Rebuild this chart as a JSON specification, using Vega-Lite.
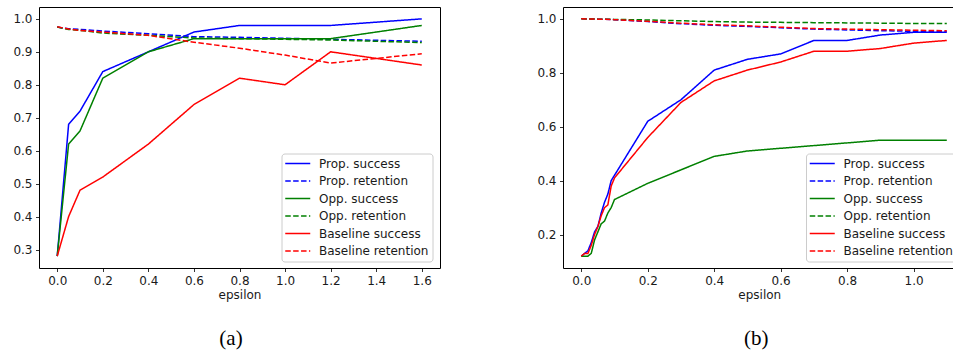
{
  "$schema": "https://vega.github.io/schema/vega-lite/v6.json",
  "padding": {"left": 12, "top": 6, "right": 0, "bottom": 0},
  "background": "white",
  "config": {
    "view": {"stroke": "#000000", "strokeWidth": 1},
    "axis": {
      "grid": false,
      "domain": false,
      "labelFont": "DejaVu Sans",
      "labelFontSize": 12,
      "labelColor": "#1a1a1a",
      "tickColor": "#000000",
      "tickSize": 3.5,
      "tickWidth": 0.8,
      "labelPadding": 3.5,
      "titleFont": "DejaVu Sans",
      "titleFontSize": 12,
      "titleFontWeight": "normal",
      "titleColor": "#1a1a1a",
      "titlePadding": 3
    },
    "legend": {
      "orient": "none",
      "title": null,
      "fillColor": "rgba(255,255,255,0.8)",
      "strokeColor": "#cccccc",
      "cornerRadius": 3,
      "padding": 4,
      "symbolType": "M-2,0H6",
      "symbolSize": 39.0625,
      "symbolStrokeWidth": 1.5,
      "labelFont": "DejaVu Sans",
      "labelFontSize": 12,
      "labelColor": "#1a1a1a",
      "labelOffset": 21.5,
      "rowPadding": 5.5
    },
    "title": {"font": "Liberation Serif", "fontSize": 21, "fontWeight": "normal", "color": "#000000"}
  },
  "data": {"values": [
    {"p": "a", "series": "Prop. success", "eps": 0, "v": 0.28},
    {"p": "a", "series": "Prop. success", "eps": 0.05, "v": 0.68},
    {"p": "a", "series": "Prop. success", "eps": 0.1, "v": 0.72},
    {"p": "a", "series": "Prop. success", "eps": 0.2, "v": 0.84},
    {"p": "a", "series": "Prop. success", "eps": 0.4, "v": 0.90},
    {"p": "a", "series": "Prop. success", "eps": 0.6, "v": 0.96},
    {"p": "a", "series": "Prop. success", "eps": 0.8, "v": 0.98},
    {"p": "a", "series": "Prop. success", "eps": 1.0, "v": 0.98},
    {"p": "a", "series": "Prop. success", "eps": 1.2, "v": 0.98},
    {"p": "a", "series": "Prop. success", "eps": 1.6, "v": 1.0},
    {"p": "a", "series": "Prop. retention", "eps": 0, "v": 0.975},
    {"p": "a", "series": "Prop. retention", "eps": 0.05, "v": 0.970},
    {"p": "a", "series": "Prop. retention", "eps": 0.1, "v": 0.968},
    {"p": "a", "series": "Prop. retention", "eps": 0.2, "v": 0.963},
    {"p": "a", "series": "Prop. retention", "eps": 0.4, "v": 0.955},
    {"p": "a", "series": "Prop. retention", "eps": 0.6, "v": 0.946},
    {"p": "a", "series": "Prop. retention", "eps": 0.8, "v": 0.944},
    {"p": "a", "series": "Prop. retention", "eps": 1.0, "v": 0.941},
    {"p": "a", "series": "Prop. retention", "eps": 1.2, "v": 0.938},
    {"p": "a", "series": "Prop. retention", "eps": 1.6, "v": 0.932},
    {"p": "a", "series": "Opp. success", "eps": 0, "v": 0.28},
    {"p": "a", "series": "Opp. success", "eps": 0.05, "v": 0.62},
    {"p": "a", "series": "Opp. success", "eps": 0.1, "v": 0.66},
    {"p": "a", "series": "Opp. success", "eps": 0.2, "v": 0.82},
    {"p": "a", "series": "Opp. success", "eps": 0.4, "v": 0.90},
    {"p": "a", "series": "Opp. success", "eps": 0.6, "v": 0.94},
    {"p": "a", "series": "Opp. success", "eps": 0.8, "v": 0.94},
    {"p": "a", "series": "Opp. success", "eps": 1.0, "v": 0.94},
    {"p": "a", "series": "Opp. success", "eps": 1.2, "v": 0.94},
    {"p": "a", "series": "Opp. success", "eps": 1.6, "v": 0.98},
    {"p": "a", "series": "Opp. retention", "eps": 0, "v": 0.975},
    {"p": "a", "series": "Opp. retention", "eps": 0.05, "v": 0.968},
    {"p": "a", "series": "Opp. retention", "eps": 0.1, "v": 0.965},
    {"p": "a", "series": "Opp. retention", "eps": 0.2, "v": 0.957},
    {"p": "a", "series": "Opp. retention", "eps": 0.4, "v": 0.950},
    {"p": "a", "series": "Opp. retention", "eps": 0.6, "v": 0.942},
    {"p": "a", "series": "Opp. retention", "eps": 0.8, "v": 0.940},
    {"p": "a", "series": "Opp. retention", "eps": 1.0, "v": 0.938},
    {"p": "a", "series": "Opp. retention", "eps": 1.2, "v": 0.936},
    {"p": "a", "series": "Opp. retention", "eps": 1.6, "v": 0.928},
    {"p": "a", "series": "Baseline success", "eps": 0, "v": 0.28},
    {"p": "a", "series": "Baseline success", "eps": 0.05, "v": 0.40},
    {"p": "a", "series": "Baseline success", "eps": 0.1, "v": 0.48},
    {"p": "a", "series": "Baseline success", "eps": 0.2, "v": 0.52},
    {"p": "a", "series": "Baseline success", "eps": 0.4, "v": 0.62},
    {"p": "a", "series": "Baseline success", "eps": 0.6, "v": 0.74},
    {"p": "a", "series": "Baseline success", "eps": 0.8, "v": 0.82},
    {"p": "a", "series": "Baseline success", "eps": 1.0, "v": 0.80},
    {"p": "a", "series": "Baseline success", "eps": 1.2, "v": 0.90},
    {"p": "a", "series": "Baseline success", "eps": 1.6, "v": 0.86},
    {"p": "a", "series": "Baseline retention", "eps": 0, "v": 0.976},
    {"p": "a", "series": "Baseline retention", "eps": 0.05, "v": 0.969},
    {"p": "a", "series": "Baseline retention", "eps": 0.1, "v": 0.965},
    {"p": "a", "series": "Baseline retention", "eps": 0.2, "v": 0.960},
    {"p": "a", "series": "Baseline retention", "eps": 0.4, "v": 0.950},
    {"p": "a", "series": "Baseline retention", "eps": 0.6, "v": 0.929},
    {"p": "a", "series": "Baseline retention", "eps": 0.8, "v": 0.911},
    {"p": "a", "series": "Baseline retention", "eps": 1.0, "v": 0.890},
    {"p": "a", "series": "Baseline retention", "eps": 1.2, "v": 0.866},
    {"p": "a", "series": "Baseline retention", "eps": 1.6, "v": 0.894},

    {"p": "b", "series": "Prop. success", "eps": 0, "v": 0.12},
    {"p": "b", "series": "Prop. success", "eps": 0.01, "v": 0.13},
    {"p": "b", "series": "Prop. success", "eps": 0.02, "v": 0.14},
    {"p": "b", "series": "Prop. success", "eps": 0.03, "v": 0.17},
    {"p": "b", "series": "Prop. success", "eps": 0.04, "v": 0.21},
    {"p": "b", "series": "Prop. success", "eps": 0.05, "v": 0.23},
    {"p": "b", "series": "Prop. success", "eps": 0.06, "v": 0.28},
    {"p": "b", "series": "Prop. success", "eps": 0.07, "v": 0.32},
    {"p": "b", "series": "Prop. success", "eps": 0.08, "v": 0.35},
    {"p": "b", "series": "Prop. success", "eps": 0.09, "v": 0.40},
    {"p": "b", "series": "Prop. success", "eps": 0.1, "v": 0.42},
    {"p": "b", "series": "Prop. success", "eps": 0.2, "v": 0.62},
    {"p": "b", "series": "Prop. success", "eps": 0.3, "v": 0.70},
    {"p": "b", "series": "Prop. success", "eps": 0.4, "v": 0.81},
    {"p": "b", "series": "Prop. success", "eps": 0.5, "v": 0.85},
    {"p": "b", "series": "Prop. success", "eps": 0.6, "v": 0.87},
    {"p": "b", "series": "Prop. success", "eps": 0.7, "v": 0.92},
    {"p": "b", "series": "Prop. success", "eps": 0.8, "v": 0.92},
    {"p": "b", "series": "Prop. success", "eps": 0.9, "v": 0.94},
    {"p": "b", "series": "Prop. success", "eps": 1.0, "v": 0.95},
    {"p": "b", "series": "Prop. success", "eps": 1.1, "v": 0.95},
    {"p": "b", "series": "Prop. retention", "eps": 0, "v": 1.0},
    {"p": "b", "series": "Prop. retention", "eps": 0.05, "v": 0.999},
    {"p": "b", "series": "Prop. retention", "eps": 0.1, "v": 0.997},
    {"p": "b", "series": "Prop. retention", "eps": 0.2, "v": 0.990},
    {"p": "b", "series": "Prop. retention", "eps": 0.3, "v": 0.982},
    {"p": "b", "series": "Prop. retention", "eps": 0.4, "v": 0.976},
    {"p": "b", "series": "Prop. retention", "eps": 0.5, "v": 0.972},
    {"p": "b", "series": "Prop. retention", "eps": 0.6, "v": 0.967},
    {"p": "b", "series": "Prop. retention", "eps": 0.7, "v": 0.962},
    {"p": "b", "series": "Prop. retention", "eps": 0.8, "v": 0.959},
    {"p": "b", "series": "Prop. retention", "eps": 0.9, "v": 0.956},
    {"p": "b", "series": "Prop. retention", "eps": 1.0, "v": 0.954},
    {"p": "b", "series": "Prop. retention", "eps": 1.1, "v": 0.953},
    {"p": "b", "series": "Opp. success", "eps": 0, "v": 0.12},
    {"p": "b", "series": "Opp. success", "eps": 0.01, "v": 0.12},
    {"p": "b", "series": "Opp. success", "eps": 0.02, "v": 0.12},
    {"p": "b", "series": "Opp. success", "eps": 0.03, "v": 0.13},
    {"p": "b", "series": "Opp. success", "eps": 0.04, "v": 0.18},
    {"p": "b", "series": "Opp. success", "eps": 0.05, "v": 0.21},
    {"p": "b", "series": "Opp. success", "eps": 0.06, "v": 0.24},
    {"p": "b", "series": "Opp. success", "eps": 0.07, "v": 0.25},
    {"p": "b", "series": "Opp. success", "eps": 0.08, "v": 0.28},
    {"p": "b", "series": "Opp. success", "eps": 0.09, "v": 0.30},
    {"p": "b", "series": "Opp. success", "eps": 0.1, "v": 0.33},
    {"p": "b", "series": "Opp. success", "eps": 0.2, "v": 0.39},
    {"p": "b", "series": "Opp. success", "eps": 0.3, "v": 0.44},
    {"p": "b", "series": "Opp. success", "eps": 0.4, "v": 0.49},
    {"p": "b", "series": "Opp. success", "eps": 0.5, "v": 0.51},
    {"p": "b", "series": "Opp. success", "eps": 0.6, "v": 0.52},
    {"p": "b", "series": "Opp. success", "eps": 0.7, "v": 0.53},
    {"p": "b", "series": "Opp. success", "eps": 0.8, "v": 0.54},
    {"p": "b", "series": "Opp. success", "eps": 0.9, "v": 0.55},
    {"p": "b", "series": "Opp. success", "eps": 1.0, "v": 0.55},
    {"p": "b", "series": "Opp. success", "eps": 1.1, "v": 0.55},
    {"p": "b", "series": "Opp. retention", "eps": 0, "v": 1.0},
    {"p": "b", "series": "Opp. retention", "eps": 0.05, "v": 0.999},
    {"p": "b", "series": "Opp. retention", "eps": 0.1, "v": 0.998},
    {"p": "b", "series": "Opp. retention", "eps": 0.2, "v": 0.996},
    {"p": "b", "series": "Opp. retention", "eps": 0.3, "v": 0.993},
    {"p": "b", "series": "Opp. retention", "eps": 0.4, "v": 0.990},
    {"p": "b", "series": "Opp. retention", "eps": 0.5, "v": 0.988},
    {"p": "b", "series": "Opp. retention", "eps": 0.6, "v": 0.987},
    {"p": "b", "series": "Opp. retention", "eps": 0.7, "v": 0.986},
    {"p": "b", "series": "Opp. retention", "eps": 0.8, "v": 0.985},
    {"p": "b", "series": "Opp. retention", "eps": 0.9, "v": 0.984},
    {"p": "b", "series": "Opp. retention", "eps": 1.0, "v": 0.983},
    {"p": "b", "series": "Opp. retention", "eps": 1.1, "v": 0.983},
    {"p": "b", "series": "Baseline success", "eps": 0, "v": 0.12},
    {"p": "b", "series": "Baseline success", "eps": 0.01, "v": 0.13},
    {"p": "b", "series": "Baseline success", "eps": 0.02, "v": 0.13},
    {"p": "b", "series": "Baseline success", "eps": 0.03, "v": 0.16},
    {"p": "b", "series": "Baseline success", "eps": 0.04, "v": 0.20},
    {"p": "b", "series": "Baseline success", "eps": 0.05, "v": 0.23},
    {"p": "b", "series": "Baseline success", "eps": 0.06, "v": 0.27},
    {"p": "b", "series": "Baseline success", "eps": 0.07, "v": 0.30},
    {"p": "b", "series": "Baseline success", "eps": 0.08, "v": 0.31},
    {"p": "b", "series": "Baseline success", "eps": 0.09, "v": 0.38},
    {"p": "b", "series": "Baseline success", "eps": 0.1, "v": 0.41},
    {"p": "b", "series": "Baseline success", "eps": 0.2, "v": 0.56},
    {"p": "b", "series": "Baseline success", "eps": 0.3, "v": 0.69},
    {"p": "b", "series": "Baseline success", "eps": 0.4, "v": 0.77},
    {"p": "b", "series": "Baseline success", "eps": 0.5, "v": 0.81},
    {"p": "b", "series": "Baseline success", "eps": 0.6, "v": 0.84},
    {"p": "b", "series": "Baseline success", "eps": 0.7, "v": 0.88},
    {"p": "b", "series": "Baseline success", "eps": 0.8, "v": 0.88},
    {"p": "b", "series": "Baseline success", "eps": 0.9, "v": 0.89},
    {"p": "b", "series": "Baseline success", "eps": 1.0, "v": 0.91},
    {"p": "b", "series": "Baseline success", "eps": 1.1, "v": 0.92},
    {"p": "b", "series": "Baseline retention", "eps": 0, "v": 1.0},
    {"p": "b", "series": "Baseline retention", "eps": 0.05, "v": 0.999},
    {"p": "b", "series": "Baseline retention", "eps": 0.1, "v": 0.997},
    {"p": "b", "series": "Baseline retention", "eps": 0.2, "v": 0.991},
    {"p": "b", "series": "Baseline retention", "eps": 0.3, "v": 0.984},
    {"p": "b", "series": "Baseline retention", "eps": 0.4, "v": 0.978},
    {"p": "b", "series": "Baseline retention", "eps": 0.5, "v": 0.974},
    {"p": "b", "series": "Baseline retention", "eps": 0.6, "v": 0.969},
    {"p": "b", "series": "Baseline retention", "eps": 0.7, "v": 0.964},
    {"p": "b", "series": "Baseline retention", "eps": 0.8, "v": 0.962},
    {"p": "b", "series": "Baseline retention", "eps": 0.9, "v": 0.960},
    {"p": "b", "series": "Baseline retention", "eps": 1.0, "v": 0.958},
    {"p": "b", "series": "Baseline retention", "eps": 1.1, "v": 0.956}
  ]},
  "spacing": 95,
  "resolve": {
    "scale": {"color": "independent", "strokeDash": "independent", "x": "independent", "y": "independent"},
    "legend": {"color": "independent", "strokeDash": "independent"}
  },
  "hconcat": [
    {
      "width": 401,
      "height": 261,
      "title": {"text": "(a)", "orient": "bottom", "anchor": "middle", "frame": "group", "offset": 28, "dx": -8.5},
      "transform": [{"filter": "datum.p === 'a'"}],
      "mark": {"type": "line", "strokeWidth": 1.5, "clip": true},
      "encoding": {
        "x": {"field": "eps", "type": "quantitative", "title": "epsilon",
              "scale": {"domain": [-0.08, 1.68], "nice": false, "zero": false},
              "axis": {"values": [0, 0.2, 0.4, 0.6, 0.8, 1.0, 1.2, 1.4, 1.6], "format": ".1f"}},
        "y": {"field": "v", "type": "quantitative", "title": null,
              "scale": {"domain": [0.244, 1.036], "nice": false, "zero": false},
              "axis": {"values": [0.3, 0.4, 0.5, 0.6, 0.7, 0.8, 0.9, 1.0], "format": ".1f"}},
        "color": {"field": "series", "type": "nominal",
                  "scale": {"domain": ["Prop. success", "Prop. retention", "Opp. success", "Opp. retention", "Baseline success", "Baseline retention"],
                            "range": ["#0000ff", "#0000ff", "#008000", "#008000", "#ff0000", "#ff0000"]},
                  "legend": {"legendX": 242.5, "legendY": 146.5}},
        "strokeDash": {"field": "series", "type": "nominal",
                  "scale": {"domain": ["Prop. success", "Prop. retention", "Opp. success", "Opp. retention", "Baseline success", "Baseline retention"],
                            "range": [[1, 0], [5.5, 2.4], [1, 0], [5.5, 2.4], [1, 0], [5.5, 2.4]]},
                  "legend": {"legendX": 242.5, "legendY": 146.5}}
      }
    },
    {
      "width": 392.5,
      "height": 261,
      "title": {"text": "(b)", "orient": "bottom", "anchor": "middle", "frame": "group", "offset": 28, "dx": -3},
      "transform": [{"filter": "datum.p === 'b'"}],
      "mark": {"type": "line", "strokeWidth": 1.5, "clip": true},
      "encoding": {
        "x": {"field": "eps", "type": "quantitative", "title": "epsilon",
              "scale": {"domain": [-0.055, 1.1262], "nice": false, "zero": false},
              "axis": {"values": [0, 0.2, 0.4, 0.6, 0.8, 1.0], "format": ".1f"}},
        "y": {"field": "v", "type": "quantitative", "title": null,
              "scale": {"domain": [0.076, 1.044], "nice": false, "zero": false},
              "axis": {"values": [0.2, 0.4, 0.6, 0.8, 1.0], "format": ".1f"}},
        "color": {"field": "series", "type": "nominal",
                  "scale": {"domain": ["Prop. success", "Prop. retention", "Opp. success", "Opp. retention", "Baseline success", "Baseline retention"],
                            "range": ["#0000ff", "#0000ff", "#008000", "#008000", "#ff0000", "#ff0000"]},
                  "legend": {"legendX": 243, "legendY": 146.5}},
        "strokeDash": {"field": "series", "type": "nominal",
                  "scale": {"domain": ["Prop. success", "Prop. retention", "Opp. success", "Opp. retention", "Baseline success", "Baseline retention"],
                            "range": [[1, 0], [5.5, 2.4], [1, 0], [5.5, 2.4], [1, 0], [5.5, 2.4]]},
                  "legend": {"legendX": 243, "legendY": 146.5}}
      }
    }
  ]
}
